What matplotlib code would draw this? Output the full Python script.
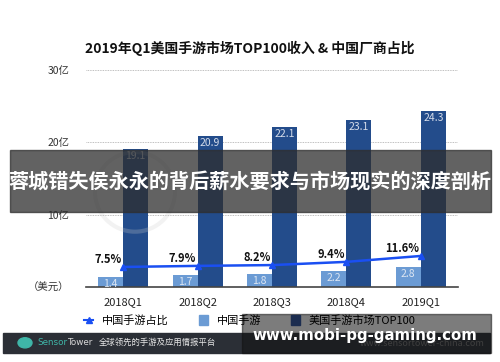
import matplotlib
matplotlib.use('Agg')
import numpy as np
from matplotlib import pyplot as plt
from matplotlib.patches import Rectangle, Circle, Ellipse
from matplotlib.lines import Line2D

plt.rcParams['font.family'] = ['Noto Sans CJK SC', 'DejaVu Sans']

# data
quarters = ['2018Q1', '2018Q2', '2018Q3', '2018Q4', '2019Q1']
china_rev = [1.4, 1.7, 1.8, 2.2, 2.8]
us_top100 = [19.1, 20.9, 22.1, 23.1, 24.3]
china_share = [7.5, 7.9, 8.2, 9.4, 11.6]
yticks = [0, 10, 20, 30]
ytick_labels = ['（美元）', '10亿', '20亿', '30亿']

light = '#6b9bd4'
dark = '#234c8b'
blue = '#1a4ff2'

fig = plt.figure(figsize=(5, 3.62), dpi=100)
ax = fig.add_axes([0.172, 0.207, 0.744, 0.6])

x = np.arange(len(quarters))
w = 0.336
b1 = ax.bar(x - w / 2, china_rev, w, color=light)
b2 = ax.bar(x + w / 2, us_top100, w, color=dark)
for r, v in zip(b1, china_rev):
    ax.text(r.get_x() + r.get_width() / 2, v - 0.25, str(v), ha='center', va='top',
            fontsize=7.5, color='#dde6f2')
for r, v in zip(b2, us_top100):
    ax.text(r.get_x() + r.get_width() / 2, v - 0.3, str(v), ha='center', va='top',
            fontsize=7.5, color='#d5dcea')

ax.set_xlim(-0.5, 4.5)
ax.set_ylim(0, 30)
ax.set_yticks(yticks)
ax.set_yticklabels(ytick_labels, fontsize=7.5, color='#333333')
ax.set_xticks(x)
ax.set_xticklabels(quarters, fontsize=8, color='#222222')
ax.tick_params(length=0, pad=7)
ax.tick_params(axis='y', pad=12)
for s in ['top', 'right', 'left']:
    ax.spines[s].set_visible(False)
ax.spines['bottom'].set_color('#444444')
ax.spines['bottom'].set_linewidth(1.2)
ax.yaxis.grid(True, linestyle=(0, (1, 1)), color='#aaaaaa', linewidth=0.6)
ax.set_axisbelow(True)

ax2 = ax.twinx()
ax2.set_ylim(0, 81)
ax2.plot(x, china_share, color=blue, linewidth=1.8, marker='^', markersize=5)
for xi, p in zip(x, china_share):
    ax2.text(xi - 0.02, p + 0.5, '%.1f%%' % p, ha='right', va='bottom',
             fontsize=8, fontweight='bold', color='#111111')
ax2.axis('off')

fig.text(0.5, 0.867, '2019年Q1美国手游市场TOP100收入 & 中国厂商占比', ha='center', va='center',
         fontsize=10, fontweight='bold', color='#111111')

# faint logo ring behind the banner
fig.patches.append(Ellipse((0.27, 0.47), 0.16, 0.22, transform=fig.transFigure, fill=False,
                           edgecolor='#cccccc', linewidth=3, alpha=0.25, zorder=0.5))

handles = [Line2D([0], [0], color=blue, marker='^', markersize=4, linewidth=1.5),
           Rectangle((0, 0), 1, 1, color=light),
           Rectangle((0, 0), 1, 1, color='#1c2d50')]
fig.legend(handles, ['中国手游占比', '中国手游', '美国手游市场TOP100'], loc='center',
           bbox_to_anchor=(0.5, 0.115), ncol=3, frameon=False, fontsize=8,
           handlelength=0.8, handleheight=0.9, columnspacing=2.7, handletextpad=0.8)

# footer bar
fig.patches.append(Rectangle((0.006, 0.025), 0.974, 0.056, transform=fig.transFigure,
                             color='#2b2f36', zorder=1))
fig.patches.append(Circle((0.05, 0.053), 0.014, transform=fig.transFigure,
                          color='#3fb6a8', zorder=2))
t1 = fig.text(0.074, 0.053, 'Sensor', ha='left', va='center', fontsize=6.3, color='#3fb6a8',
              family=['DejaVu Sans'])
fig.canvas.draw()
bb = t1.get_window_extent()
t2 = fig.text(bb.x1 / fig.bbox.width, 0.053, 'Tower', ha='left', va='center', fontsize=6.3,
              color='#d8d8d8', family=['DejaVu Sans'])
fig.canvas.draw()
bb2 = t2.get_window_extent()
fig.text((bb2.x1 + 6) / fig.bbox.width, 0.053, '全球领先的手游及应用情报平台', ha='left',
         va='center', fontsize=6, color='#e8e8e8')
fig.text(0.97, 0.05, 'www.sensortower-china.com', ha='right', va='center', fontsize=6.5,
         color='#777777')

# overlays
fig.patches.append(Rectangle((0.02, 0.414), 0.962, 0.171, transform=fig.transFigure,
                             color='#2e2e2e', alpha=0.75, zorder=5))
fig.text(0.5, 0.5, '蓉城错失侯永永的背后薪水要求与市场现实的深度剖析', ha='center', va='center',
         fontsize=14.5, fontweight='bold', color='white', zorder=6)
fig.patches.append(Rectangle((0.484, 0.025), 0.498, 0.108, transform=fig.transFigure,
                             color='#111111', alpha=0.55, zorder=5))
fig.text(0.73, 0.072, 'www.mobi-pg-gaming.com', ha='center', va='center', fontsize=10.8,
         fontweight='bold', color='white', family=['DejaVu Sans'], zorder=6)

fig.savefig('out.png', dpi=100)
